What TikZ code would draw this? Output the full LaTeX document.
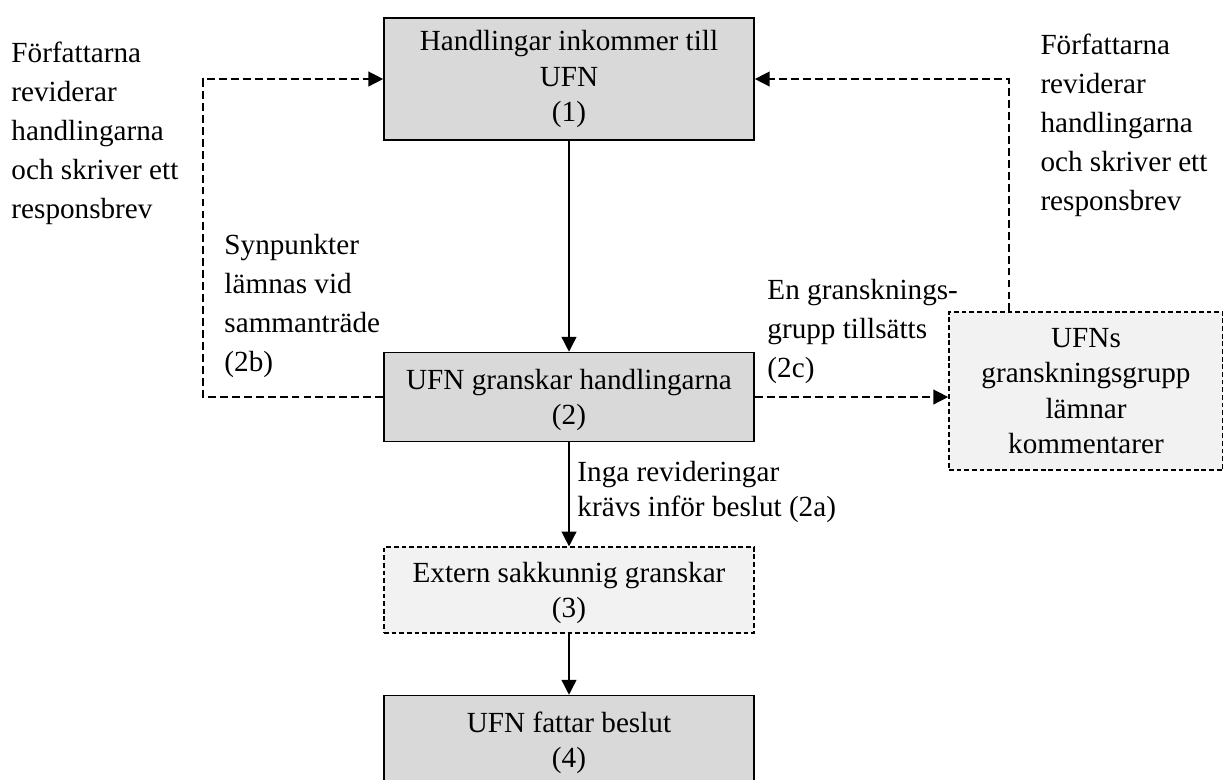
\documentclass[tikz,border=0pt]{standalone}
\usepackage{fontspec}
\setmainfont{Liberation Serif}
\usepackage{xcolor}
\usetikzlibrary{arrows.meta, positioning}
\definecolor{boxgray}{RGB}{217,217,217}
\definecolor{softgray}{RGB}{242,242,242}

\begin{document}
\begin{tikzpicture}[x=0.0147cm, y=-0.0147cm, >={Triangle[length=6.2pt, width=6.2pt]},
  box/.style={draw, line width=0.6pt, fill=boxgray, minimum width=5.44cm, align=center, inner sep=0pt, font=\fontsize{12.2}{14.8}\selectfont},
  softbox/.style={box, fill=softgray, dash pattern=on 2pt off 1.2pt},
  lbl/.style={anchor=base west, align=left, inner sep=0pt, font=\fontsize{12.2}{16.3}\selectfont},
  flow/.style={->, line width=0.6pt},
  back/.style={->, line width=0.6pt, dash pattern=on 3.3pt off 1.7pt}]
  \useasboundingbox (0,0) rectangle (1223,779);

  % main chain
  \node[box, minimum height=1.79cm] (recv) at (569,79) {Handlingar inkommer till\\UFN\\(1)};
  \node[box, minimum height=1.31cm, text depth=-2pt] (review) at (569,397) {UFN granskar handlingarna\\(2)};
  \node[softbox, minimum height=1.26cm, text depth=-2pt] (expert) at (569,590) {Extern sakkunnig granskar\\(3)};
  \node[box, minimum height=1.31cm, text depth=-2pt] (decide) at (569,740) {UFN fattar beslut\\(4)};
  \node[softbox, minimum width=4.03cm, minimum height=2.32cm] (group) at (1086,391) {UFNs\\granskningsgrupp\\lämnar\\kommentarer};

  \coordinate (lbend) at (203,79);
  \coordinate (rbend) at (1009,79);

  \draw[flow] (recv) -- (review);
  \draw[flow] (review) -- (expert);
  \draw[flow] (expert) -- (decide);

  % revision loops
  \draw[back] (review.west) -| (lbend) -- (recv.west);
  \draw[back] (review.east) -- (review.east -| group.west);
  \draw[back] (group.north -| rbend) -- (rbend) -- (recv.east);

  % labels (base = last line)
  \node[lbl] (authl) at (11,218) {Författarna\\reviderar\\handlingarna\\och skriver ett\\responsbrev};
  \node[lbl] (authr) at (1040,210) {Författarna\\reviderar\\handlingarna\\och skriver ett\\responsbrev};
  \node[lbl] (meet) at (224,371) {Synpunkter\\lämnas vid\\sammanträde\\(2b)};
  \node[lbl] (team) at (767,377) {En gransknings-\\grupp tillsätts\\(2c)};
  \node[lbl, font=\fontsize{12.2}{14.6}\selectfont] (norev) at (577,516) {Inga revideringar\\krävs inför beslut (2a)};
\end{tikzpicture}
\end{document}
